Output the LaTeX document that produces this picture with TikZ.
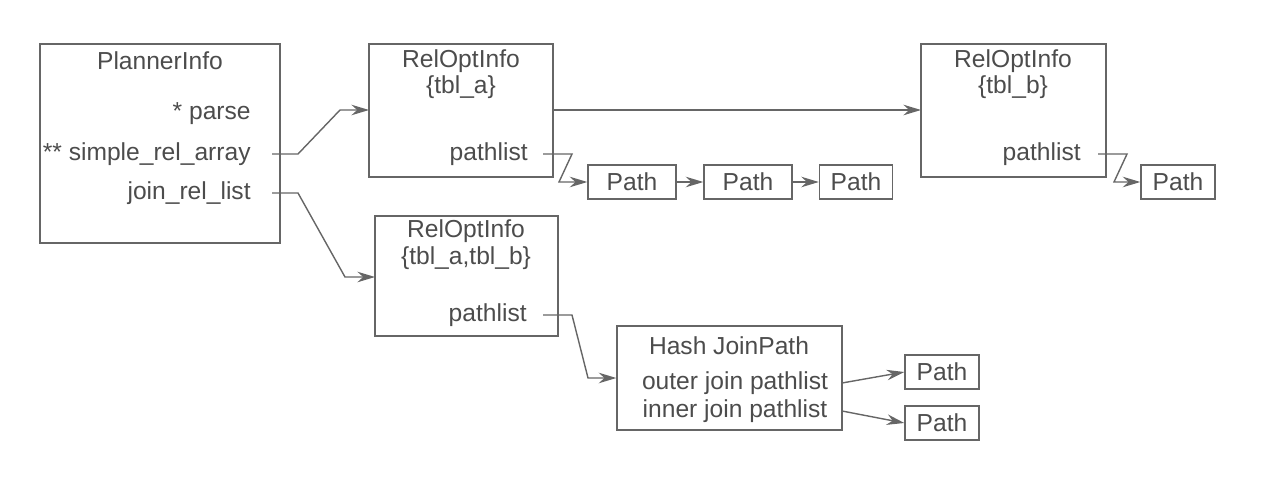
\documentclass[tikz,border=0pt]{standalone}
\usepackage{fontspec}
\setmainfont{Liberation Sans}
\usetikzlibrary{arrows.meta}
\begin{document}
\begin{tikzpicture}[x=0.02cm,y=-0.02cm,
  box/.style={draw=black!60,line width=0.8pt},
  t/.style={text=black!70,font=\fontsize{14pt}{16pt}\selectfont,inner sep=0pt},
  c/.style={draw=black!60,line width=0.8pt,-{Stealth[length=10pt,width=6pt]}},
  pb/.style={draw=black!60,line width=0.8pt,text=black!70,font=\fontsize{14pt}{16pt}\selectfont,minimum height=0.68cm,inner sep=0pt}]
\useasboundingbox (0,0) rectangle (1280,483);
\draw[box] (40,44) rectangle (280,243);
\node[t] (pi) at (160,61) {PlannerInfo};
\node[t,anchor=east] (parse) at (251,114) {* parse};
\node[t,anchor=east] (sra) at (251,154) {** simple\_rel\_array};
\node[t,anchor=east] (jrl) at (251,193) {join\_rel\_list};
\draw[box] (369,44) rectangle (553,177);
\node[t] (ra) at (461,61) {RelOptInfo};
\node[t] (ra2) at (461,87) {\{tbl\_a\}};
\node[t,anchor=east] (pla) at (528,154) {pathlist};
\draw[box] (921,44) rectangle (1106,177);
\node[t] (rb) at (1013,61) {RelOptInfo};
\node[t] (rb2) at (1013,87) {\{tbl\_b\}};
\node[t,anchor=east] (plb) at (1081,154) {pathlist};
\draw[box] (375,216) rectangle (558,336);
\node[t] (rab) at (466,231) {RelOptInfo};
\node[t] (rab2) at (466,258) {\{tbl\_a,tbl\_b\}};
\node[t,anchor=east] (plab) at (527,315) {pathlist};
\node[pb,minimum width=1.76cm] (p1) at (632,182) {Path};
\node[pb,minimum width=1.76cm] (p2) at (748,182) {Path};
\node[pb,minimum width=1.46cm] (p3) at (856,182) {Path};
\node[pb,minimum width=1.48cm] (pb1) at (1178,182) {Path};
\node[box,minimum width=4.5cm,minimum height=2.08cm] (hj) at (729.5,378) {};
\node[t] (hjt) at (729,346) {Hash JoinPath};
\node[t] (oj) at (735,383) {outer join pathlist};
\node[t] (ij) at (735,411) {inner join pathlist};
\node[pb,minimum width=1.48cm] (po) at (942,372) {Path};
\node[pb,minimum width=1.48cm] (pi2) at (942,423) {Path};
\coordinate (a1) at (272,154);
\coordinate (a2) at (272,193);
\draw[c] (a1) -- (298,154) -- (340,110) -- (369,110);
\draw[c] (a2) -- (298,193) -- (345,277) -- (375,277);
\draw[c] (553,110) -- (921,110);
\draw[c] (543,154) -- (572,154) -- (559,182) -- (p1.west);
\draw[c] (1098,154) -- (1127,154) -- (1114,182) -- (pb1.west);
\draw[c] (p1) -- (p2);
\draw[c] (p2) -- (p3);
\draw[c] (543,315) -- (572,315) -- (588,378) -- (hj.west|-0,378);
\draw[c] (842,383) -- (po.west);
\draw[c] (842,411) -- (pi2.west);
\end{tikzpicture}
\end{document}
